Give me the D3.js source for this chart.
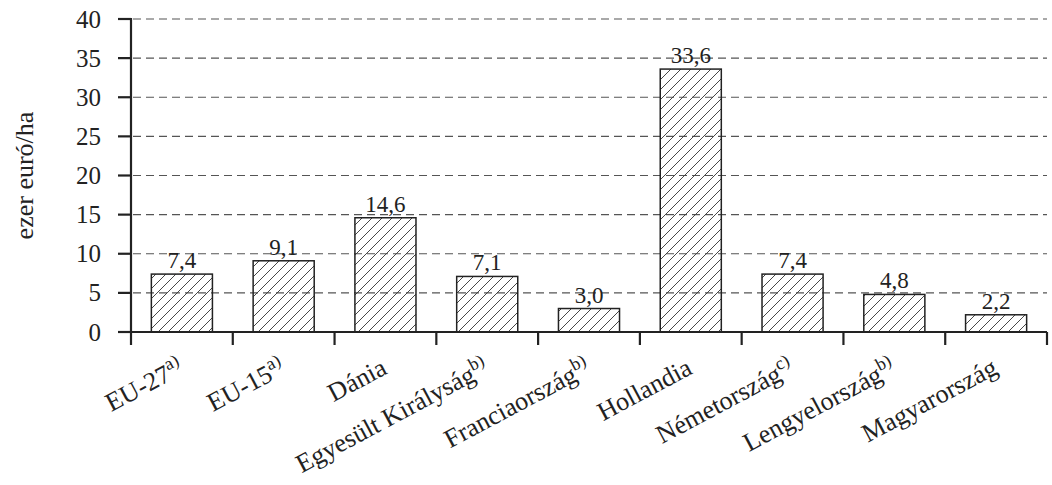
<!DOCTYPE html>
<html>
<head>
<meta charset="utf-8">
<style>
  body { margin: 0; background: #fff; }
</style>
</head>
<body>
<svg id="chart" width="1052" height="485" font-family="'Liberation Serif', 'Times New Roman', Times, serif"></svg>
<script src="https://d3js.org/d3.v7.min.js"></script>
<script>

var categories = ["EU-27", "EU-15", "Dánia", "Egyesült Királyság", "Franciaország",
                  "Hollandia", "Németország", "Lengyelország", "Magyarország"];
var notes = ["a)", "a)", "", "b)", "b)", "", "c)", "b)", ""];
var values = [7.4, 9.1, 14.6, 7.1, 3.0, 33.6, 7.4, 4.8, 2.2];
var yTicks = [0, 5, 10, 15, 20, 25, 30, 35, 40];
var yTitle = "ezer euró/ha";

var svg = d3.select("#chart");
var mLeft = 131, mRight = 1047, mTop = 19, mBottom = 332;
var ink = "#222";

var x = d3.scaleBand()
    .domain(categories)
    .range([mLeft, mRight])
    .paddingInner(0.4)
    .paddingOuter(0.2);

var y = d3.scaleLinear().domain([0, 40]).range([mBottom, mTop]);

var fmt = function (v) { return d3.format(".1f")(v).replace(".", ","); };

// hatch pattern
svg.append("defs").append("pattern")
    .attr("id", "hatch")
    .attr("patternUnits", "userSpaceOnUse")
    .attr("width", 10)
    .attr("height", 10)
  .append("path")
    .attr("d", "M-1,1 l2,-2 M0,10 l10,-10 M9,11 l2,-2")
    .attr("stroke", "#333")
    .attr("stroke-width", 0.9);

// gridlines
svg.append("g")
  .selectAll("line")
  .data(yTicks.filter(function (d) { return d > 0; }))
  .enter().append("line")
    .attr("x1", mLeft + 2)
    .attr("x2", mRight)
    .attr("y1", function (d) { return y(d); })
    .attr("y2", function (d) { return y(d); })
    .attr("stroke", "#555")
    .attr("stroke-width", 1.2)
    .attr("stroke-dasharray", "8,5");

// value labels (gridlines show through, like the reference)
svg.append("g")
  .selectAll("text")
  .data(values)
  .enter().append("text")
    .attr("x", function (d, i) { return x(categories[i]) + x.bandwidth() / 2; })
    .attr("y", function (d) { return y(d) - 6; })
    .attr("text-anchor", "middle")
    .attr("fill", ink)
    .style("font-size", "23px")
    .text(function (d) { return fmt(d); });

// bars
svg.append("g")
  .selectAll("rect")
  .data(values)
  .enter().append("rect")
    .attr("x", function (d, i) { return x(categories[i]); })
    .attr("y", function (d) { return y(d); })
    .attr("width", x.bandwidth())
    .attr("height", function (d) { return y(0) - y(d); })
    .attr("fill", "url(#hatch)")
    .attr("stroke", ink)
    .attr("stroke-width", 1.5);

// y axis
var yAxis = svg.append("g");
yAxis.append("line")
    .attr("x1", mLeft).attr("x2", mLeft)
    .attr("y1", y(40) - 1).attr("y2", y(0) + 1)
    .attr("stroke", ink).attr("stroke-width", 2.2);
yAxis.selectAll(".tick")
  .data(yTicks)
  .enter().append("line")
    .attr("x1", mLeft - 13).attr("x2", mLeft)
    .attr("y1", function (d) { return y(d); })
    .attr("y2", function (d) { return y(d); })
    .attr("stroke", ink).attr("stroke-width", 2.2);
yAxis.selectAll("text")
  .data(yTicks)
  .enter().append("text")
    .attr("x", mLeft - 30)
    .attr("y", function (d) { return y(d); })
    .attr("dy", "0.34em")
    .attr("text-anchor", "end")
    .attr("fill", ink)
    .style("font-size", "25px")
    .text(function (d) { return d; });

svg.append("text")
    .attr("transform", "translate(33," + ((mTop + mBottom) / 2) + ") rotate(-90)")
    .attr("text-anchor", "middle")
    .attr("fill", ink)
    .style("font-size", "26px")
    .text(yTitle);

// x axis
var xAxis = svg.append("g");
xAxis.append("line")
    .attr("x1", mLeft - 1).attr("x2", mRight)
    .attr("y1", y(0)).attr("y2", y(0))
    .attr("stroke", ink).attr("stroke-width", 2.2);
var step = x.step();
xAxis.selectAll(".tick")
  .data(d3.range(categories.length + 1))
  .enter().append("line")
    .attr("x1", function (i) { return mLeft + i * step; })
    .attr("x2", function (i) { return mLeft + i * step; })
    .attr("y1", y(0)).attr("y2", y(0) + 13)
    .attr("stroke", ink).attr("stroke-width", 2.2);

var labels = xAxis.selectAll("text.cat")
  .data(categories)
  .enter().append("text")
    .attr("class", "cat")
    .attr("text-anchor", "end")
    .attr("fill", ink)
    .style("font-size", "26px")
    .attr("transform", function (d) {
      var cx = x(d) + x.bandwidth() / 2 + 3;
      return "translate(" + cx + "," + (y(0) + 41) + ") rotate(-28)";
    });
labels.append("tspan").text(function (d) { return d; });
labels.append("tspan")
    .attr("dy", -10)
    .style("font-size", "18px")
    .text(function (d, i) { return notes[i]; });

</script>
</body>
</html>
